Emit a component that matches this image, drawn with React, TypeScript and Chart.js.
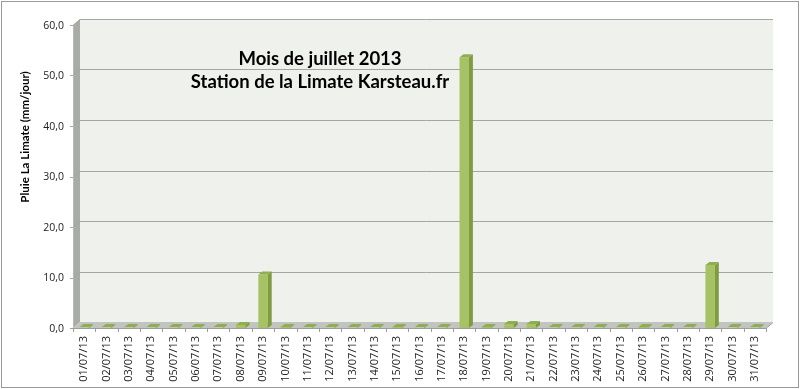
import React, { useEffect, useRef } from "react";
import { Chart, registerables } from "chart.js";

Chart.register(...registerables);

const categories = [
  "01/07/13","02/07/13","03/07/13","04/07/13","05/07/13","06/07/13","07/07/13","08/07/13",
  "09/07/13","10/07/13","11/07/13","12/07/13","13/07/13","14/07/13","15/07/13","16/07/13",
  "17/07/13","18/07/13","19/07/13","20/07/13","21/07/13","22/07/13","23/07/13","24/07/13",
  "25/07/13","26/07/13","27/07/13","28/07/13","29/07/13","30/07/13","31/07/13",
];
const rain = [
  0, 0, 0, 0, 0, 0, 0, 0.6,
  10.6, 0.2, 0, 0, 0, 0, 0.2, 0,
  0, 53.6, 0.2, 0.8, 0.8, 0, 0, 0,
  0, 0.2, 0, 0, 12.5, 0, 0,
];
const yTicks = [0, 10, 20, 30, 40, 50, 60];
const titleLines = ["Mois de juillet 2013", "Station de la Limate Karsteau.fr"];
const yTitle = "Pluie La Limate (mm/jour)";

const DX = 7;
const DY = -6;
const BDX = 4;
const BDY = -3;

const threeD = {
  id: "threeD",
  beforeDatasetsDraw(chart: any) {
    const { ctx, chartArea: a, scales } = chart;
    const y = scales.y;
    ctx.save();
    // back wall
    ctx.fillStyle = "#eff1ec";
    ctx.fillRect(a.left + DX, a.top + DY, a.right - a.left, a.bottom - a.top);
    // left side wall
    ctx.fillStyle = "#a9aba6";
    ctx.beginPath();
    ctx.moveTo(a.left, a.top);
    ctx.lineTo(a.left + DX, a.top + DY);
    ctx.lineTo(a.left + DX, a.bottom + DY);
    ctx.lineTo(a.left, a.bottom);
    ctx.closePath();
    ctx.fill();
    // floor
    ctx.fillStyle = "#c2c4bf";
    ctx.beginPath();
    ctx.moveTo(a.left, a.bottom);
    ctx.lineTo(a.left + DX, a.bottom + DY);
    ctx.lineTo(a.right + DX, a.bottom + DY);
    ctx.lineTo(a.right, a.bottom);
    ctx.closePath();
    ctx.fill();
    // gridlines
    ctx.strokeStyle = "#a4a6a1";
    ctx.lineWidth = 1;
    for (const v of yTicks) {
      if (v === 0) continue;
      const py = Math.round(y.getPixelForValue(v)) + 0.5;
      ctx.beginPath();
      ctx.moveTo(a.left - 3, py);
      ctx.lineTo(a.left, py);
      ctx.lineTo(a.left + DX, py + DY);
      ctx.lineTo(a.right + DX, py + DY);
      ctx.stroke();
    }
    // axis lines
    ctx.strokeStyle = "#b8bab5";
    ctx.beginPath();
    ctx.moveTo(a.left + 0.5, a.top);
    ctx.lineTo(a.left + 0.5, a.bottom);
    ctx.stroke();
    ctx.strokeStyle = "#9c9e99";
    ctx.beginPath();
    ctx.moveTo(a.left - 3, a.bottom + 0.5);
    ctx.lineTo(a.right, a.bottom + 0.5);
    ctx.lineTo(a.right + DX, a.bottom + DY + 0.5);
    ctx.stroke();
    // x ticks
    const n = categories.length;
    const w = (a.right - a.left) / n;
    for (let i = 0; i <= n; i++) {
      const px = Math.round(a.left + i * w) + 0.5;
      ctx.beginPath();
      ctx.moveTo(px, a.bottom);
      ctx.lineTo(px, a.bottom + 4);
      ctx.stroke();
    }
    ctx.restore();
  },
  afterDatasetsDraw(chart: any) {
    const { ctx } = chart;
    const meta = chart.getDatasetMeta(0);
    ctx.save();
    meta.data.forEach((bar: any) => {
      const p = bar.getProps(["x", "y", "base", "width"], true);
      const l = p.x - p.width / 2;
      const r = p.x + p.width / 2;
      const top = Math.min(p.y, p.base - 1);
      // side face
      ctx.fillStyle = "#7f9c43";
      ctx.beginPath();
      ctx.moveTo(r, top);
      ctx.lineTo(r + BDX, top + BDY);
      ctx.lineTo(r + BDX, p.base + BDY);
      ctx.lineTo(r, p.base);
      ctx.closePath();
      ctx.fill();
      // top face
      ctx.fillStyle = "#8fae50";
      ctx.beginPath();
      ctx.moveTo(l, top);
      ctx.lineTo(l + BDX, top + BDY);
      ctx.lineTo(r + BDX, top + BDY);
      ctx.lineTo(r, top);
      ctx.closePath();
      ctx.fill();
    });
    ctx.restore();
  },
  afterDraw(chart: any) {
    const { ctx, width, height } = chart;
    ctx.save();
    // outer frame
    ctx.strokeStyle = "#9a9a9a";
    ctx.lineWidth = 1;
    ctx.strokeRect(1.5, 1.5, width - 3, height - 3);
    // title
    ctx.fillStyle = "#000";
    ctx.font = "bold 18.5px Lato";
    ctx.textAlign = "center";
    ctx.textBaseline = "middle";
    ctx.fillText(titleLines[0], 320, 59);
    ctx.fillText(titleLines[1], 320, 82);
    // y title
    ctx.font = "bold 11.5px Lato";
    ctx.translate(25, 137);
    ctx.rotate(-Math.PI / 2);
    ctx.fillText(yTitle, 0, 0);
    ctx.restore();
  },
};

export default function App() {
  const ref = useRef<HTMLCanvasElement | null>(null);
  useEffect(() => {
    document.body.style.margin = "0";
    const canvas = ref.current;
    if (!canvas) return;
    const chart = new Chart(canvas, {
      type: "bar",
      data: {
        labels: categories,
        datasets: [
          {
            data: rain,
            backgroundColor: "#a6c264",
            borderWidth: 0,
            barPercentage: 0.42,
            categoryPercentage: 1,
          },
        ],
      },
      options: {
        animation: false,
        responsive: false,
        devicePixelRatio: 1,
        layout: { padding: { top: 25, right: 34, bottom: 0, left: 0 } },
        plugins: { legend: { display: false }, tooltip: { enabled: false }, title: { display: false } },
        scales: {
          x: {
            type: "category",
            offset: true,
            grid: { display: false, drawTicks: false },
            border: { display: false },
            ticks: {
              autoSkip: false,
              maxRotation: 90,
              minRotation: 90,
              padding: 8,
              color: "#222",
              font: { family: "Open Sans", size: 11 },
            },
            afterFit(scale: any) {
              scale.height = 389 - 328;
            },
          },
          y: {
            min: 0,
            max: 60,
            grid: { display: false, drawTicks: false },
            border: { display: false },
            afterBuildTicks(scale: any) {
              scale.ticks = yTicks.map((v) => ({ value: v }));
            },
            ticks: {
              padding: 9,
              labelOffset: 1,
              color: "#222",
              font: { family: "Open Sans", size: 10.5 },
              callback: (v: any) => Number(v).toFixed(1).replace(".", ","),
            },
            afterFit(scale: any) {
              scale.width = 73;
            },
          },
        },
      },
      plugins: [threeD],
    });
    return () => chart.destroy();
  }, []);
  return (
    <div style={{ width: 800, height: 389, background: "#fff" }}>
      <canvas ref={ref} width={800} height={389} style={{ display: "block" }} />
    </div>
  );
}
